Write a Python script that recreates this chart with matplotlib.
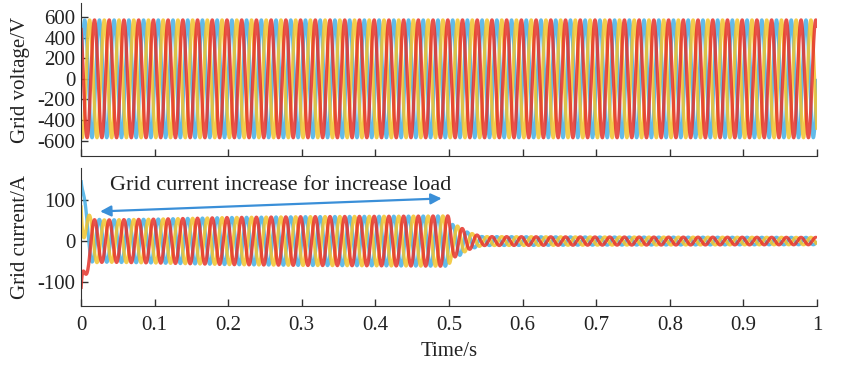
import numpy as np
import matplotlib
matplotlib.use("Agg")
import matplotlib.pyplot as plt

plt.rcParams['font.family'] = ['Liberation Serif', 'DejaVu Serif']

# ---- data ----
freq_hz = 50.0
phase_names = ["A", "B", "C"]
phase_colors = ["#45aee6", "#f2c42c", "#e5322a"]
phase_shift_deg = [0, -120, 120]

# grid voltage amplitude (V) envelope knots
v_knot_t = [0.0, 1.0]
v_knot_amp = [570, 570]

# grid current amplitude (A) envelope knots
i_knot_t = [0.0, 0.01, 0.03, 0.1, 0.2, 0.3, 0.4, 0.5, 0.503, 0.515, 0.525, 0.545, 0.7, 1.0]
i_knot_amp = [60, 56, 52, 54, 58, 60, 61, 62, 42, 35, 22, 11, 10, 9]
# start-up DC offsets per phase (A) and their decay time (s)
i_dc_offset = [150, 140, -170]
i_dc_tau = 0.004

x_ticks = [0, 0.1, 0.2, 0.3, 0.4, 0.5, 0.6, 0.7, 0.8, 0.9, 1]
x_tick_labels = ["0", "0.1", "0.2", "0.3", "0.4", "0.5", "0.6", "0.7", "0.8", "0.9", "1"]
v_ticks = [-600, -400, -200, 0, 200, 400, 600]
i_ticks = [-100, 0, 100]

annotation_text = "Grid current increase for increase load"

# ---- figure ----
W, H = 851, 367
fig = plt.figure(figsize=(W / 100, H / 100), dpi=100)
left = 81 / W
width = (817 - 81) / W
ax1 = fig.add_axes([left, 1 - 156 / H, width, (156 - 3) / H])
ax2 = fig.add_axes([left, 1 - 306 / H, width, (306 - 168) / H])

t = np.linspace(0, 1, 40001)
w = 2 * np.pi * freq_hz
v_amp = np.interp(t, v_knot_t, v_knot_amp)
i_amp = np.interp(t, i_knot_t, i_knot_amp)

for k in range(3):
    ph = np.deg2rad(phase_shift_deg[k])
    v = v_amp * np.sin(w * t + ph)
    ax1.plot(t, v, color=phase_colors[k], lw=2.4, solid_capstyle='butt', alpha=0.85)
    i = i_amp * np.sin(w * t + ph) + i_dc_offset[k] * np.exp(-t / i_dc_tau)
    ax2.plot(t, i, color=phase_colors[k], lw=2.4, solid_capstyle='butt', alpha=0.85)

for ax in (ax1, ax2):
    ax.set_xlim(0, 1)
    ax.spines['top'].set_visible(False)
    ax.spines['right'].set_visible(False)
    ax.spines['left'].set_color('#333333')
    ax.spines['bottom'].set_color('#333333')
    ax.tick_params(direction='in', length=5, width=1, color='#333333',
                   labelsize=15, labelcolor='#222222', pad=4)
    ax.set_xticks(x_ticks)

ax1.set_xticklabels([])
ax1.set_ylim(-747, 734)
ax1.set_yticks(v_ticks)
ax1.set_yticklabels([str(v) for v in v_ticks])
ax1.set_ylabel("Grid voltage/V", fontsize=15, color='#222222')

ax2.set_ylim(-160, 180)
ax2.set_yticks(i_ticks)
ax2.set_yticklabels([str(v) for v in i_ticks])
ax2.tick_params(axis='x', pad=7)
ax2.set_xticklabels(x_tick_labels)
ax2.set_xlabel("Time/s", fontsize=15, color='#222222', labelpad=5)
ax2.set_ylabel("Grid current/A", fontsize=15, color='#222222')

ax2.annotate("", xy=(0.026, 73), xytext=(0.49, 105),
             arrowprops=dict(arrowstyle='<|-|>', color='#3a8fd8', lw=1.6,
                             mutation_scale=16, shrinkA=0, shrinkB=0))
ax2.text(0.2715, 137, annotation_text, ha='center', va='center',
         fontsize=16, color='#222222')

ax1.yaxis.set_label_coords(-0.069, 0.5)
ax2.yaxis.set_label_coords(-0.069, 0.5)

fig.savefig("out.png", dpi=100)
